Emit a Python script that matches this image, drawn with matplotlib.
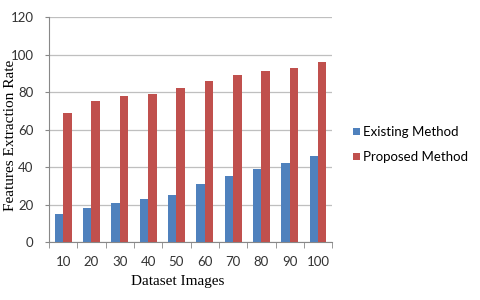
import matplotlib
matplotlib.use("Agg")
import matplotlib.pyplot as plt
import numpy as np

categories = ["10", "20", "30", "40", "50", "60", "70", "80", "90", "100"]
existing = [15, 18, 21, 23, 25, 31, 35, 39, 42, 46]
proposed = [69, 75, 78, 79, 82, 86, 89, 91, 93, 96]
yticks = [0, 20, 40, 60, 80, 100, 120]

fig = plt.figure(figsize=(4.8, 3.0), dpi=100)
ax = fig.add_axes([0.102, 0.193, 0.590, 0.750])

x = np.arange(len(categories))
w = 0.3
ax.bar(x - w/2, existing, w, color="#4F81BD", label="Existing Method", zorder=3)
ax.bar(x + w/2, proposed, w, color="#C0504D", label="Proposed Method", zorder=3)

ax.set_xlim(-0.5, len(categories) - 0.5)
ax.set_ylim(0, 120)
ax.set_yticks(yticks)
ax.yaxis.grid(True, color="#BFBFBF", linewidth=0.9, zorder=0)
ax.set_xticks(x)
ax.set_xticklabels(categories)
ax.set_xticks(np.arange(-0.5, len(categories), 1), minor=True)
ax.tick_params(axis="x", which="major", length=0, pad=10)
ax.tick_params(axis="x", which="minor", length=4, color="#888888")
ax.tick_params(axis="y", length=3, color="#888888", pad=8)
for lbl in ax.get_xticklabels() + ax.get_yticklabels():
    lbl.set_fontfamily("Lato")
    lbl.set_fontsize(9.5)
    lbl.set_color("#333333")

for s in ["top", "right"]:
    ax.spines[s].set_visible(False)
for s in ["left", "bottom"]:
    ax.spines[s].set_color("#888888")

ax.set_xlabel("Dataset Images", family="Liberation Serif", fontsize=11)
ax.xaxis.set_label_coords(0.456, -0.148)
ax.set_ylabel("Features Extraction Rate", family="Liberation Serif", fontsize=11)
ax.yaxis.set_label_coords(-0.112, 0.476)

fig.legend(loc="center left", bbox_to_anchor=(0.736, 0.518), frameon=False,
           prop={"family": "Lato", "size": 9.5}, handlelength=0.5, handleheight=0.5,
           handletextpad=0.25, labelspacing=1.0, borderpad=0, borderaxespad=0)

fig.savefig("out.png", dpi=100)
